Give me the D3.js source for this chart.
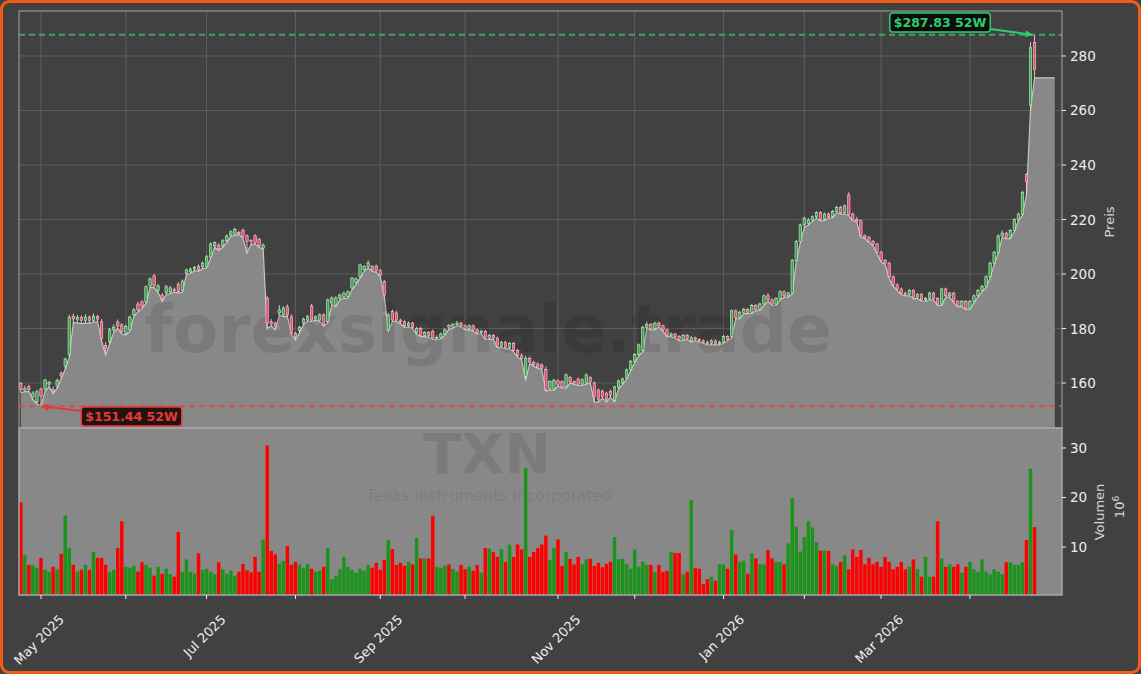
<!DOCTYPE html>
<html><head><meta charset="utf-8">
<script src="https://cdn.jsdelivr.net/npm/d3@7"></script>
<style>html,body{margin:0;padding:0;background:#414141;}svg{display:block;font-family:"DejaVu Sans",sans-serif;}</style>
</head><body><svg id="c" width="1141" height="674"></svg>
<script>
// ---------- data ----------
const symbol = "TXN";
const companyName = "Texas Instruments Incorporated";
const watermark = "forexsignale.trade";
const startDate = "2025-04-24";
const holidays = ["2025-05-26","2025-06-19","2025-07-04","2025-09-01","2025-11-27","2025-12-25","2026-01-01","2026-01-19","2026-02-16","2026-04-03"];

const opens = [
159.8,157.4,158.6,155,153.1,157.8,157.8,159.6,157.6,158.9,
163.7,166.2,170.5,184.5,183.3,184,183,184.2,183,184.5,
182.5,173.8,175.2,179.5,182.4,181.3,178.3,179.5,185,189,
189.8,189.8,195.6,199.3,193.9,192.3,193.1,193.5,194.3,196.3,
193.9,200.4,200.8,201.8,202.7,202.6,202.7,206.2,210.3,210.6,
210.3,212.2,214.3,214.7,215.3,216.1,214,212.3,214,212.8,
209.5,191,182.5,182,185.7,185,188,184.3,178.3,179.2,
182,183.1,188.3,183.5,183.1,185,182.5,189.4,188.6,191.2,
191.6,191.7,194.9,196.8,199,201.7,202.7,202.7,202.9,201.2,
197.2,179.5,186.2,185.7,183.1,182.5,181,182,178.5,180,
177.5,178.5,179,176.5,176.8,178,181.2,180.5,181.5,182,
181,180,181,179.5,178.5,179,176.5,177.5,176.5,173.5,
175,173,174.5,172,170,162.5,169,167.5,167,166.6,
165,158,157.8,160.8,160.5,158.6,162,160.5,161.5,159.6,
160.1,162,160.1,157.4,157,156.3,157,153.5,158.4,160,
161.8,165,168,170.5,172,180.5,181.5,180,182,181,
179.5,177.5,178,177,176,177.5,175.5,176.6,176,175.5,
175,174.5,175.5,174.5,175,177,177,186.5,184,186,
187,186,188.5,187,189,192,190.5,189,191,193.5,
192,193,205,212,218,218.6,219.8,221,222.5,220,
222,221,223,224.5,222.5,229,222,220,219.5,214,
213.5,212,211,208,205,204,199,196,194.5,193,
192.5,194,191.5,192.5,190.5,191,193,191,189,194.5,
192,193,190,188.5,190,187.5,190,192,194,195.5,
199,204,208,214,215,213.5,216,220,222,236.5,
262,285];
const highs = [
160.3,159,159.4,157,157.5,158.3,161.5,160.8,158.8,161.6,
164.2,169.3,185,185.5,185,184.8,185.2,184.8,185.5,185,
183.5,175,180.2,181.5,183.3,182,181.5,184.8,187.5,189.8,
190.5,195.8,198.8,200,196.3,193,196,195.6,195,197,
198,202,202.4,203,203.5,204.6,207,211.6,212,211.3,
212.8,214.5,216,217,215.8,216.7,214.6,212.8,214.6,213.3,
211.2,192,183.5,182.6,188.6,188.2,188.8,185.2,178.8,181,
184,185,189,184.8,185.6,185.6,191,191.8,191.8,192.8,
193.6,194,199,198.8,203.8,203.2,205,203.3,203.5,201.8,
197.8,185.6,187,186.5,183.6,183,182.6,182.4,180.6,180.5,
179,179,179.6,177.5,178.5,180,181.6,182,182.8,182.4,
181.5,181.5,181.4,180,179.6,179.5,178,178,177,175.5,
175.5,175,175,172.6,171,170,169.8,168.2,167.6,167.2,
166,161,161.6,161.3,161,163.5,162.5,161,162,161.8,
163.5,162.5,160.6,158,157.6,156.8,157.6,159,161.3,162,
165.3,168.5,171,174.5,181,182.5,182,182.5,182.6,181.4,
180,178.6,178.4,177.6,178,178,177.2,177,176.4,176,
175.6,176,176,175.5,177.6,177.5,187,187,186.5,187.6,
187.5,189,189,189.5,192.5,193,191,191.5,194,194,
193.5,205.5,212.5,218.5,221,220.5,221.5,223,223,222.5,
222.6,223.5,225,225,225.5,230,222.6,221,220,214.6,
214,212.5,211.5,208.5,205.5,204.5,199.5,196.6,195,193.6,
194.5,194.5,193,193,191.5,193.5,193.5,191.5,195,195,
193.5,193.5,190.5,190.5,190.5,190.5,192.5,194.5,196,199.5,
204.5,208.5,214.5,216,215.5,216.5,220.5,222.5,230.5,237,
285,287.83];
const lows = [
156.5,156.8,156.9,153.8,152.4,151.44,156.9,158.6,156.2,158,
161.8,165,169.5,182.2,182,181.8,182,182,182.3,182.5,
175.5,170.3,174.3,178.5,180,178,177.6,179,184.5,186,
187.5,189.2,195,195,193.2,190,192.4,192.8,193.4,193,
193.3,199.8,200.2,201.2,201,202,202.2,205.8,209.8,208.6,
209.8,211.6,213.8,214.2,214.5,213.2,207.7,211,211,209.8,
209,180,181,179.5,184.8,184.4,184.5,177.8,175.8,178.5,
181.4,182.6,182.6,183,182.6,180.8,182,188.8,188,190.6,
191,191.2,194.2,196.2,198.5,201,202.2,201,200.6,199,
191.8,179,182.6,182.6,181.8,180.4,180.5,180,178,177,
177,176.8,176,175.8,176.2,177.6,179.8,180,181,180.6,
179.5,179.6,179,178,178,176,176,176,173,173,
172.5,172.6,171.5,169.5,168.5,161,167.2,166.2,165.4,165,
157,157.5,157.3,159,158.1,158.1,160,159.5,159.1,159.1,
159.6,160,153.1,153,154.5,153,154.8,153.1,158,159.5,
161.3,164.5,167.5,170,171.5,180,179.5,179.6,180.5,179,
177,177,176.5,175.5,175.6,176,175,175.5,175,174.6,
174,174,174,174,174.6,175.5,176.5,183.5,183.6,185.5,
185.5,185.6,186.5,186.6,188.6,190,188.5,188.6,190.6,191.5,
191.5,192.6,204.5,211.5,217,218,219.3,220.5,219.5,219.6,
220.5,220.6,222.5,222,222,221.5,219.5,219,213.5,213,
211.5,210.5,207.5,204.5,203.5,198.5,195.5,194,192.5,192,
192,191,191,190,190,190.5,190.5,188.5,188.5,191.5,
191.5,189.5,188,188,187,187,189.5,191.5,193.5,195,
198.5,203.5,207.5,213.5,213,213,215.5,219.5,221.5,229,
260,272];
const closes = [
157.6,157.9,157.7,156.3,156.8,155.2,161.1,160.2,157,161,
162.6,168.8,184,183.5,184,183,184.2,183,184.5,183.5,
176.4,172.8,179.5,180.5,180.9,178.8,180.7,184.2,186.8,186.8,
188.3,195.3,198.2,195.6,195.6,190.8,195.3,194.9,194.1,193.5,
197.4,201.5,201.8,202.4,201.5,204,206.3,211,211.5,209.2,
212.2,213.9,215.5,216.4,215.1,213.7,211.9,211.9,211.5,210.3,
210.6,182,181.7,180.9,186.8,187.5,185,178.3,177,180.5,
183.5,184.3,183.1,184.3,185,181.3,190.5,191.2,191.2,192.3,
193,193.5,198.5,198.2,203.3,202.7,204,201.5,201.2,199.6,
192.3,185,183.1,183.1,182.5,181,182,180.5,180,177.5,
178.5,177.5,176.5,176.8,178,179.5,180.5,181.5,182,181,
180,181,179.5,178.5,179,176.5,177.5,176.5,173.5,175,
173,174.5,172,170,169,169,167.7,166.8,165.9,165.5,
157.5,160.5,161,159.5,158.6,163,160.5,160,159.6,161.2,
163,160.5,155,154,155,154,155.5,158.6,160.8,161.5,
164.8,168,170.5,174,180.5,181.5,180,182,181,179.5,
177.5,178,177,176,177.5,176.5,176.6,176,175.5,175,
174.5,175.5,174.5,175,177,176,186.5,184,186,187,
186,188.5,187,189,192,190.5,189,191,193.5,192,
193,205,212,218,220.5,219.8,221,222.5,220,222,
221,223,224.5,222.5,225,222,220,219.5,214,213.5,
212,211,208,205,204,199,196,194.5,193,192.5,
194,191.5,192.5,190.5,191,193,191,189,194.5,192,
193,190,188.5,190,187.5,190,192,194,195.5,199,
204,208,214,215,213.5,216,220,222,230,234,
283,275];
const volumes = [
19,8.4,6.4,6.3,5.8,7.8,5.4,5,6,5.5,
8.6,16.4,9.8,6.4,5,5.4,6.4,5.4,9,7.8,
7.8,6.4,5,5.4,9.8,15.2,6,5.8,6.2,5,
6.9,6.4,5.8,4.2,6,4.6,5.6,4.5,4,13,
5,7.5,5,4.6,8.7,5.4,5.6,5,4.5,6.9,
5.5,4.6,5.2,4.2,5,6.6,5.3,4.9,8,5,
11.5,30.5,9.2,8.5,6.6,7.2,10.2,6.4,7,6.5,
5.8,6.6,5.6,5,5.2,6,9.8,3.5,4.2,5.5,
8,6,5.4,4.8,5.6,5.2,6.4,5.8,6.8,5.4,
7.4,11.4,9.6,6.4,6.8,6.2,7,6.5,11.8,7.7,
7.7,7.7,16.3,6,5.8,6.2,6.5,5.6,5,6.4,
5.5,6,5.2,6.4,4.8,9.8,9.7,9,8,9.6,
7,10.5,8,10.5,9.5,26,8,9,9.8,10.5,
12.3,7.4,9.8,11.5,6.2,9,7.6,6.5,8,6.5,
7.5,7.6,6.2,6.8,5.9,6.6,7,12,7.5,7.6,
6.6,5.6,9.5,6,7,6.4,6.4,5,6.4,5,
5.2,9,8.8,8.8,4.5,5,19.5,5.8,5.6,2.5,
3.5,4,3.2,6.5,6.5,5.6,13.4,8.5,7,7.2,
4.6,8.7,7.7,6.5,6.5,9.4,7.7,7,7,6.5,
10.7,19.9,14.1,9.1,12,15.2,14,11,9.3,9.3,
9.2,6.5,6.2,7,8.3,5.5,9.5,8,9.4,6.5,
7.8,6.5,7,6,8,7,5.5,6,7,5.5,
6,7.5,5.5,4,8,4,4,15.2,7.7,6,
6.5,6,6.5,4.8,6,7,5.5,5,7.5,5,
4.5,5.5,5,4.5,6.9,6.9,6.4,6.4,6.9,11.4,
25.8,14];
const priceTicks = [160,180,200,220,240,260,280];
const volumeTicks = [10,20,30];
const high52 = 287.83, low52 = 151.44;
const high52Label = "$287.83 52W", low52Label = "$151.44 52W";
const priceLabel = "Preis", volumeLabel = "Volumen";

// ---------- dates (trading days) ----------
const fmtKey = d3.timeFormat("%Y-%m-%d");
const dates = [];
{ let d = d3.timeParse("%Y-%m-%d")(startDate);
  while (dates.length < closes.length) {
    const w = d.getDay();
    if (w !== 0 && w !== 6 && !holidays.includes(fmtKey(d))) dates.push(new Date(d));
    d = d3.timeDay.offset(d, 1);
  } }
const monthTicks = [];
dates.forEach((d, i) => { if (i > 0 && d.getMonth() !== dates[i-1].getMonth()) monthTicks.push(i); });

// ---------- layout ----------
const W = 1141, H = 674;
const L = 19, R = 1062, PT = 11, PB = 428, VT = 428, VB = 595;
const padBars = 5;
const svg = d3.select("#c");
const x = d3.scaleLinear().domain([-0.45, 257.8]).range([L, R]);
const yP = d3.scaleLinear().domain([143.5, 296.5]).range([PB, PT]);
const yV = d3.scaleLinear().domain([0.3, 34.04]).range([VB, VT]);
const step = x(1) - x(0);
const data = closes.map((c, i) => ({i, o: opens[i], h: highs[i], l: lows[i], c, v: volumes[i]}));

svg.append("rect").attr("width", W).attr("height", H).attr("fill", "#414141");

const defs = svg.append("defs");
defs.append("clipPath").attr("id", "cp").append("rect").attr("x", L).attr("y", PT).attr("width", R - L).attr("height", PB - PT);
defs.append("clipPath").attr("id", "cv").append("rect").attr("x", L).attr("y", VT).attr("width", R - L).attr("height", VB - VT);
[["ag", "#2ecc71"], ["ar", "#e53935"]].forEach(([id, col]) => {
  defs.append("marker").attr("id", id).attr("viewBox", "0 0 10 10").attr("refX", 10).attr("refY", 5)
    .attr("markerWidth", 9).attr("markerHeight", 7).attr("markerUnits", "userSpaceOnUse").attr("orient", "auto")
    .append("path").attr("d", "M0,0L10,5L0,10z").attr("fill", col);
});

// ---------- price panel ----------
const gp = svg.append("g");
gp.append("rect").attr("x", L).attr("y", PT).attr("width", R - L).attr("height", PB - PT).attr("fill", "#414141");
gp.selectAll(".hg").data(priceTicks).join("line").attr("x1", L).attr("x2", R)
  .attr("y1", d => yP(d)).attr("y2", d => yP(d)).attr("stroke", "#5e5e5e").attr("stroke-width", 1);
gp.selectAll(".vg").data(monthTicks).join("line").attr("y1", PT).attr("y2", PB)
  .attr("x1", d => x(d)).attr("x2", d => x(d)).attr("stroke", "#5e5e5e").attr("stroke-width", 1);

const areaPts = data.map(d => [d.i, d.l]);
const last = data[data.length - 1];
areaPts.push([last.i + padBars, last.l]);
const pc = gp.append("g").attr("clip-path", "url(#cp)");
pc.append("path").datum(areaPts)
  .attr("d", d3.area().x(d => x(d[0])).y0(PB).y1(d => yP(d[1])))
  .attr("fill", "#888888");
pc.append("path").datum(areaPts)
  .attr("d", d3.line().x(d => x(d[0])).y(d => yP(d[1])))
  .attr("fill", "none").attr("stroke", "#c4c4c4").attr("stroke-width", 1.2);

pc.append("text").attr("x", 488).attr("y", 352).attr("text-anchor", "middle")
  .attr("font-size", 66).attr("font-weight", "bold").attr("fill", "#000").attr("fill-opacity", 0.1).text(watermark);

pc.append("line").attr("x1", L).attr("x2", R).attr("y1", yP(high52)).attr("y2", yP(high52))
  .attr("stroke", "#3fbf6f").attr("stroke-opacity", 0.8).attr("stroke-width", 2).attr("stroke-dasharray", "6,4");
pc.append("line").attr("x1", L).attr("x2", R).attr("y1", yP(low52)).attr("y2", yP(low52))
  .attr("stroke", "#e04848").attr("stroke-opacity", 0.85).attr("stroke-width", 2).attr("stroke-dasharray", "6,4");

const bw = step * 0.6;
const cg = pc.selectAll(".cd").data(data).join("g");
cg.append("line").attr("x1", d => x(d.i)).attr("x2", d => x(d.i))
  .attr("y1", d => yP(d.h)).attr("y2", d => yP(d.l))
  .attr("stroke", d => d.c >= d.o ? "#c0f2c0" : "#ffc0cc").attr("stroke-width", 0.9);
cg.append("rect").attr("x", d => x(d.i) - bw / 2).attr("width", bw)
  .attr("y", d => yP(Math.max(d.o, d.c)))
  .attr("height", d => Math.max(1, Math.abs(yP(d.o) - yP(d.c))))
  .attr("fill", d => d.c >= d.o ? "#3f9f52" : "#e05272")
  .attr("stroke", d => d.c >= d.o ? "#c4f7c4" : "#ffc6d2").attr("stroke-width", 0.6);

gp.append("rect").attr("x", L).attr("y", PT).attr("width", R - L).attr("height", PB - PT)
  .attr("fill", "none").attr("stroke", "#a6a6a6").attr("stroke-width", 1);

// ---------- volume panel ----------
const gv = svg.append("g");
gv.append("rect").attr("x", L).attr("y", VT).attr("width", R - L).attr("height", VB - VT).attr("fill", "#888888");
const vc = gv.append("g").attr("clip-path", "url(#cv)");
vc.append("text").attr("x", 487).attr("y", 473).attr("text-anchor", "middle").attr("font-size", 56)
  .attr("font-weight", "bold").attr("fill", "#000").attr("fill-opacity", 0.09).text(symbol);
vc.append("text").attr("x", 489).attr("y", 501).attr("text-anchor", "middle").attr("font-size", 15.5)
  .attr("fill", "#000").attr("fill-opacity", 0.09).text(companyName);
const vbw = step * 0.86;
vc.selectAll(".vb").data(data).join("rect")
  .attr("x", d => x(d.i) - vbw / 2).attr("width", vbw)
  .attr("y", d => yV(d.v)).attr("height", d => VB - yV(d.v))
  .attr("fill", d => d.c >= d.o ? "#1c941c" : "#ff0000");
gv.append("rect").attr("x", L).attr("y", VT).attr("width", R - L).attr("height", VB - VT)
  .attr("fill", "none").attr("stroke", "#a8a8a8").attr("stroke-width", 1.5);

// ---------- axes ----------
const tc = "#eeeeee";
const ax = svg.append("g").attr("fill", tc).attr("font-size", 13.5);
priceTicks.forEach(t => {
  ax.append("line").attr("x1", R).attr("x2", R + 4).attr("y1", yP(t)).attr("y2", yP(t)).attr("stroke", tc);
  ax.append("text").attr("x", R + 8).attr("y", yP(t)).attr("dominant-baseline", "central").text(t);
});
volumeTicks.forEach(t => {
  ax.append("line").attr("x1", R).attr("x2", R + 4).attr("y1", yV(t)).attr("y2", yV(t)).attr("stroke", tc);
  ax.append("text").attr("x", R + 8).attr("y", yV(t)).attr("dominant-baseline", "central").text(t);
});
const fmtM = d3.timeFormat("%b %Y");
monthTicks.forEach(i => {
  ax.append("line").attr("x1", x(i)).attr("x2", x(i)).attr("y1", VB).attr("y2", VB + 4).attr("stroke", tc);
  if (dates[i].getMonth() % 2 === 0) {
    const t = ax.append("text").attr("font-size", 13).attr("text-anchor", "middle")
      .attr("dominant-baseline", "central").text(fmtM(dates[i]));
    const w = t.node().getComputedTextLength();
    const h = (w + 12) * Math.SQRT1_2;
    t.attr("transform", `translate(${x(i) - 2},${613 + h / 2}) rotate(-45)`);
  }
});
svg.append("text").attr("transform", "translate(1114,222) rotate(-90)").attr("text-anchor", "middle")
  .attr("font-size", 13).attr("fill", "#d8d8d8").text(priceLabel);
svg.append("text").attr("transform", "translate(1104,512) rotate(-90)").attr("text-anchor", "middle")
  .attr("font-size", 13).attr("fill", "#d8d8d8").text(volumeLabel);
const vt = svg.append("text").attr("transform", "translate(1124,507) rotate(-90)").attr("text-anchor", "middle")
  .attr("font-size", 13).attr("fill", "#d8d8d8");
vt.append("tspan").text("10");
vt.append("tspan").attr("dy", -5).attr("font-size", 9).text("6");

// ---------- annotations ----------
function note(label, bx, by, col, bg, tx, ty, ax0, ay0) {
  const g = svg.append("g");
  const t = g.append("text").attr("font-size", 12.5).attr("font-weight", "bold").attr("fill", col)
    .attr("text-anchor", "middle").attr("dominant-baseline", "central").attr("x", bx).attr("y", by).text(label);
  const w = t.node().getComputedTextLength();
  g.insert("rect", "text").attr("x", bx - w / 2 - 4).attr("y", by - 9.5).attr("width", w + 8).attr("height", 19)
    .attr("rx", 3).attr("fill", bg).attr("stroke", col).attr("stroke-width", 1.5);
  svg.append("line").attr("x1", ax0).attr("y1", ay0).attr("x2", tx).attr("y2", ty)
    .attr("stroke", col).attr("stroke-width", 2).attr("marker-end", col === "#2ecc71" ? "url(#ag)" : "url(#ar)");
}
note(high52Label, 940, 22.5, "#2ecc71", "#0c0c0c", x(last.i) - 2, yP(high52), 990, 29);
note(low52Label, 131.5, 416.5, "#e53935", "#221313", x(5) + 0.5, yP(low52), 82, 411);

// ---------- frame ----------
svg.append("rect").attr("x", 1.5).attr("y", 1.5).attr("width", W - 3).attr("height", H - 3).attr("rx", 8)
  .attr("fill", "none").attr("stroke", "#f25c19").attr("stroke-width", 3);
</script></body></html>
